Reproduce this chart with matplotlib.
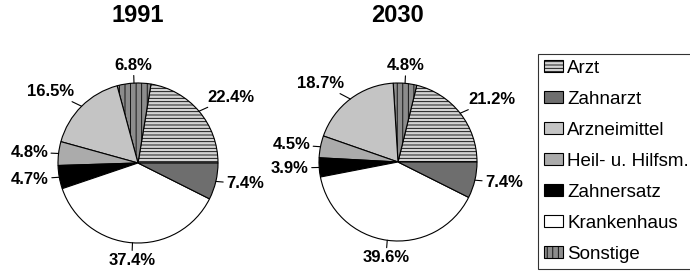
import numpy as np
import matplotlib.pyplot as plt

plt.rcParams['font.family'] = ['Liberation Sans', 'DejaVu Sans']
plt.rcParams['hatch.linewidth'] = 0.6

# categories in legend order
categories = ["Arzt", "Zahnarzt", "Arzneimittel", "Heil- u. Hilfsm.",
              "Zahnersatz", "Krankenhaus", "Sonstige"]
share_1991 = [22.4, 7.4, 16.5, 4.8, 4.7, 37.4, 6.8]
share_2030 = [21.2, 7.4, 18.7, 4.5, 3.9, 39.6, 4.8]
years = ["1991", "2030"]

# order the slices run in the pie (counterclockwise from 3 o'clock)
pie_order = [0, 6, 2, 3, 4, 5, 1]

colors = ["#d4d4d4", "#6e6e6e", "#c4c4c4", "#ababab", "#000000", "#ffffff", "#8c8c8c"]
hatches = ["-----", "", "", "", "", "", "|||"]

fig = plt.figure(figsize=(6.9, 2.73), dpi=100)
W, H = 690, 273


def draw_pie(cx, cy, r, values, title):
    lim = 100 / r
    ax = fig.add_axes([(cx - 100) / W, (H - cy - 100) / H, 200 / W, 200 / H])
    vals = [values[i] for i in pie_order]
    wedges, _ = ax.pie(vals, startangle=0, counterclock=True,
                       colors=[colors[i] for i in pie_order],
                       wedgeprops=dict(edgecolor="black", linewidth=0.8))
    for w, i in zip(wedges, pie_order):
        w.set_hatch(hatches[i])
    ax.set_xlim(-lim, lim)
    ax.set_ylim(-lim, lim)
    ax.set_aspect("equal")
    ax.axis("off")
    for w, v in zip(wedges, vals):
        ang = np.deg2rad((w.theta1 + w.theta2) / 2)
        c, s = np.cos(ang), np.sin(ang)
        ha = "center" if abs(c) < 0.2 else ("left" if c > 0 else "right")
        va = "bottom" if s > 0.5 else ("top" if s < -0.5 else "center")
        ax.annotate(f"{v}%", xy=(c, s), xytext=(1.13 * c, 1.13 * s),
                    ha=ha, va=va, fontsize=12, fontweight="bold",
                    arrowprops=dict(arrowstyle="-", color="black", lw=0.8,
                                    shrinkA=0, shrinkB=0))
    fig.text(cx / W, 1 - 16 / H, title, ha="center", va="center",
             fontsize=17, fontweight="bold")
    return wedges


w1 = draw_pie(138, 163, 80, share_1991, years[0])
draw_pie(398, 162, 79, share_2030, years[1])

handles = [w1[pie_order.index(i)] for i in range(len(categories))]
leg = fig.legend(handles, categories, loc="upper left",
                 bbox_to_anchor=(538 / W, 1 - 54 / H), fontsize=13.5,
                 frameon=True, fancybox=False, edgecolor="black",
                 handlelength=1.05, handleheight=0.6, handletextpad=0.2,
                 labelspacing=0.75, borderpad=0.3, borderaxespad=0)
leg.get_frame().set_linewidth(0.8)

fig.savefig("out.png", dpi=100)
